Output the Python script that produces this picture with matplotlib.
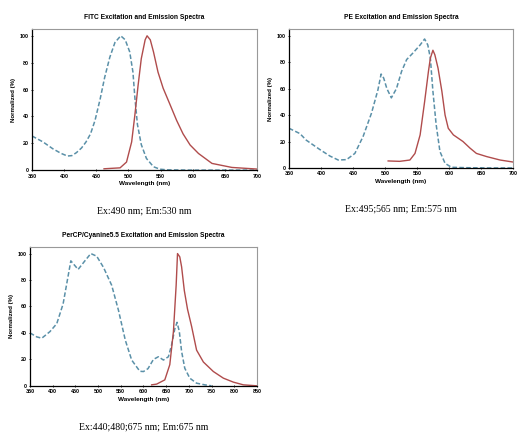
import numpy as np
import matplotlib
matplotlib.use('Agg')
import matplotlib.pyplot as plt

# Datos (longitud de onda en nm, intensidad normalizada en %)
fitc_ex_wl = [350, 367, 382, 395, 405, 412, 419, 427, 434, 441, 448, 456, 463, 471,
              479, 488, 495, 502, 507, 510, 514, 520, 528, 539, 549, 560, 600, 700]
fitc_ex = [25.4, 21, 16, 12.5, 10.5, 10.8, 13, 16.5, 21, 27, 37, 53, 69, 84,
           95, 100, 97, 88, 73, 54, 34, 19, 8.7, 2.5, 0.7, 0.2, 0, 0]
fitc_em_wl = [462, 487, 497, 505, 510, 515, 520, 526, 529, 534, 539, 546, 554, 565,
              575, 585, 596, 609, 630, 661, 700]
fitc_em = [1, 1.7, 6, 21, 41, 63, 83, 97, 100, 97, 88, 73, 61, 48.5,
           37, 27, 18.7, 12.4, 5, 2, 0.8]

pe_ex_wl = [350, 367, 377, 398, 414, 427, 440, 453, 466, 479, 489, 494, 498, 503,
            510, 518, 526, 534, 544, 555, 562, 567, 571, 575, 580, 586, 594, 604,
            627, 660, 700]
pe_ex = [30, 26, 21, 14, 9, 6, 6.3, 11, 24, 41.5, 59, 71, 68, 60,
         53, 60, 73, 82, 87, 93, 97.5, 93, 83, 58, 33, 12.4, 3.5, 0.5,
         0.2, 0, 0]
pe_em_wl = [505, 523, 539, 547, 555, 562, 568, 571, 575, 578, 583, 589, 594, 599,
            607, 622, 633, 643, 659, 680, 700]
pe_em = [5.3, 5, 6, 11, 25, 50, 73, 83, 89, 85.6, 75.5, 58, 40, 30,
         25, 20, 15, 11, 8.6, 6, 4.5]

percp_ex_wl = [350, 365, 376, 394, 409, 423, 440, 456, 471, 484, 497, 512, 530, 545,
               560, 574, 592, 600, 610, 622, 633, 644, 655, 662, 669, 674, 679, 684,
               691, 702, 717, 735, 750]
percp_ex = [40, 37, 36, 41, 47, 62, 94.5, 88, 94.5, 100, 98, 89.5, 76, 57,
            34.5, 19.5, 11, 10.8, 13, 20, 22, 19.5, 22, 31, 43, 48, 41, 26,
            13.3, 5.8, 2, 0.75, 0]
percp_em_wl = [618, 629, 647, 658, 666, 672, 675, 680, 684, 690, 697, 706, 717, 732,
               754, 776, 798, 820, 850]
percp_em = [0.75, 1.3, 4.5, 16, 41, 76, 100, 97.5, 90, 72, 58, 45, 27, 18,
            10.8, 5.8, 2.8, 0.75, 0]

titulos = ['FITC Excitation and Emission Spectra',
           'PE Excitation and Emission Spectra',
           'PerCP/Cyanine5.5 Excitation and Emission Spectra']
leyendas = ['Ex:490 nm; Em:530 nm',
            'Ex:495;565 nm; Em:575 nm',
            'Ex:440;480;675 nm; Em:675 nm']

color_ex = '#5a90a8'
color_em = '#b04c4c'

fig = plt.figure(figsize=(5.17, 4.34), dpi=100)

# Posiciones de los tres paneles [izq, abajo, ancho, alto]
paneles = [
    ([0.062, 0.608, 0.435, 0.325], (350, 700), np.arange(350, 701, 50),
     fitc_ex_wl, fitc_ex, fitc_em_wl, fitc_em),
    ([0.559, 0.613, 0.433, 0.320], (350, 700), np.arange(350, 701, 50),
     pe_ex_wl, pe_ex, pe_em_wl, pe_em),
    ([0.058, 0.111, 0.439, 0.320], (350, 850), np.arange(350, 851, 50),
     percp_ex_wl, percp_ex, percp_em_wl, percp_em),
]

for i, (pos, xlim, xticks, exw, exv, emw, emv) in enumerate(paneles):
    ax = fig.add_axes(pos)
    ax.plot(exw, exv, color=color_ex, linestyle=(0, (3, 1.5)), linewidth=1.1,
            solid_joinstyle='round', dash_joinstyle='round')
    ax.plot(emw, emv, color=color_em, linewidth=1.0, solid_joinstyle='round')
    ax.set_xlim(*xlim)
    ax.set_ylim(0, 105)
    ax.set_xticks(xticks)
    ax.set_yticks(np.arange(0, 101, 20))
    ax.tick_params(labelsize=3.9, length=2, width=0.6, pad=1.5, direction='inout')
    for lab in ax.get_xticklabels() + ax.get_yticklabels():
        lab.set_fontweight('bold')
        lab.set_family('Liberation Sans')
    ax.spines['left'].set_color('black')
    ax.spines['bottom'].set_color('black')
    ax.spines['left'].set_linewidth(0.9)
    ax.spines['bottom'].set_linewidth(0.9)
    ax.spines['top'].set_color('#999999')
    ax.spines['right'].set_color('#999999')
    ax.set_title(titulos[i], fontsize=4.8, fontweight='bold', family='Liberation Sans', pad=7)
    ax.set_xlabel('Wavelength (nm)', fontsize=4.6, fontweight='bold', family='Liberation Sans',
                  labelpad=2)
    ax.set_ylabel('Normalized (%)', fontsize=4.4, fontweight='bold', family='Liberation Sans',
                  labelpad=2.5)
    # Leyenda de excitacion/emision debajo del panel
    cx = pos[0] + pos[2] / 2
    cy = pos[1] - 0.095
    fig.text(cx, cy, leyendas[i], ha='center', va='center', fontsize=7,
             family='Liberation Serif')

fig.savefig('out.png', dpi=100)
